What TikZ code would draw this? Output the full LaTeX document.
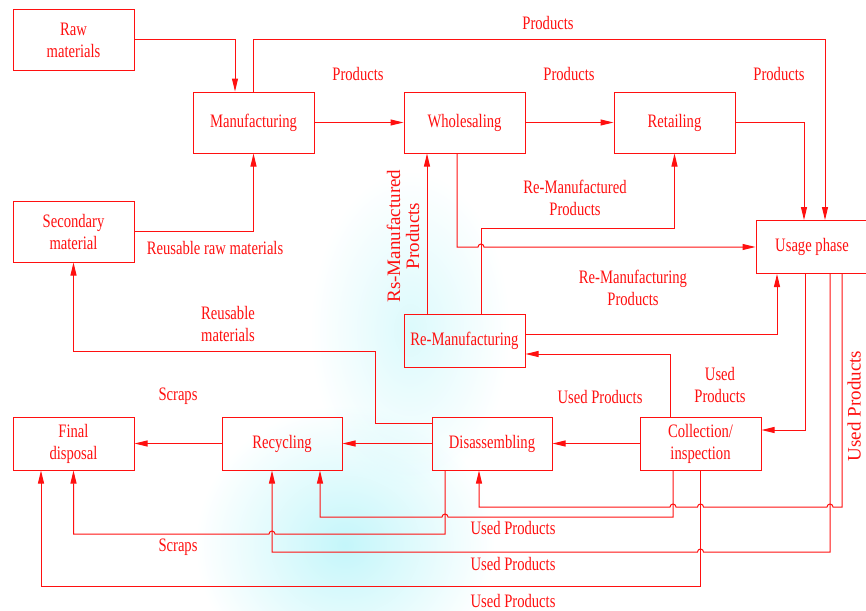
\documentclass[tikz,border=0pt]{standalone}
\usepackage{fontspec}
\setmainfont{Liberation Serif}[FakeStretch=0.77]
\newfontfamily\uprightserif{Liberation Serif}
\usepackage{tikz}
\usetikzlibrary{arrows.meta,positioning}
\definecolor{FlowRed}{HTML}{FF1010}
\definecolor{HazeCyan}{HTML}{C4F6FA}

\begin{document}
\begin{tikzpicture}[
  x=1pt,y=-1pt,
  every node/.style={font=\fontsize{19}{22}\selectfont,text=FlowRed},
  box/.style={draw=FlowRed,line width=1pt,minimum width=121pt,minimum height=53pt,
              inner sep=0pt,align=center},
  tallbox/.style={box,minimum height=61pt},
  flow/.style={-{Triangle[length=13pt,width=6pt]},line width=1pt,color=FlowRed},
  lbl/.style={align=center,inner sep=0pt},
  sidelbl/.style={lbl,rotate=90,font=\uprightserif\fontsize{19}{19}\selectfont},
  haze/.style={inner color=HazeCyan,outer color=white}
]
  \useasboundingbox (0,0) rectangle (866,610);
  \begin{scope}[blend mode=multiply]
    \shade[haze,inner color=HazeCyan!60] (410,330) ellipse[x radius=100pt,y radius=160pt];
    \shade[haze] (345,545) ellipse[x radius=150pt,y radius=140pt];
  \end{scope}

  \node[tallbox] (raw) at (73.5,40) {Raw\\materials};
  \node[tallbox] (man) at (253.5,122.5) {Manufacturing};
  \node[tallbox] (whole) at (464.5,122.5) {Wholesaling};
  \node[tallbox] (retail) at (674.5,122.5) {Retailing};
  \node[box,minimum width=112pt] (usage) at (812,247) {Usage phase};
  \node[tallbox] (second) at (73.5,231.5) {Secondary\\material};
  \node[box] (reman) at (464.5,340.5) {Re-Manufacturing};
  \node[box] (final) at (73.5,443.5) {Final\\disposal};
  \node[box,minimum width=120pt] (recyc) at (282,443.5) {Recycling};
  \node[box,minimum width=120pt] (disas) at (492,443.5) {Disassembling};
  \node[box] (coll) at (700.5,443.5) {Collection/\\inspection};

  % forward chain
  \draw[flow] (raw.east) -| ([xshift=-18.5]man.north);
  \draw[flow] (man.north) -- (253.5,40) -| ([xshift=13]usage.north);
  \draw[flow] (man) -- (whole);
  \draw[flow] (whole) -- (retail);
  \draw[flow] (retail.east) -| ([xshift=-8]usage.north);
  \draw[flow] (second.east) -| (man.south);
  \draw[flow] ([xshift=-7.5]whole.south) |- (478,247)
    arc[start angle=180,end angle=0,radius=3pt] -- (usage.west);

  % re-manufacturing loop
  \draw[flow] ([xshift=16.5]reman.north) -- ++(0,-85) -| (retail.south);
  \draw[flow] ([xshift=-37.5]reman.north) -- ([xshift=-37.5]whole.south);
  \draw[flow] ([yshift=6.5]reman.east) -| ([xshift=-35]usage.south);
  \draw[flow] ([xshift=-30.5]coll.north) |- ([yshift=-13.5]reman.east);
  \draw[flow] ([xshift=-7]usage.south) |- ([yshift=13.5]coll.east);

  % end of life
  \draw[flow] (coll) -- (disas);
  \draw[flow] (disas) -- (recyc);
  \draw[flow] (recyc) -- (final);
  \draw[flow] ([yshift=20.5]disas.west) -| (375,351) -| (second.south);

  \draw[flow] ([xshift=30]usage.south) -- (842,507) -- (833,507)
    arc[start angle=0,end angle=180,radius=3pt] -- (703.5,507)
    arc[start angle=0,end angle=180,radius=3pt] -- (676,507)
    arc[start angle=0,end angle=180,radius=3pt] -- (479,507) -- ([xshift=-13]disas.south);
  \draw[flow] ([xshift=-27.5]coll.south) -- (673,517) -- (448,517)
    arc[start angle=0,end angle=180,radius=3pt] -- (320,517) -- ([xshift=38]recyc.south);
  \draw[flow] ([xshift=-47]disas.south) -- (445,534) -- (275,534)
    arc[start angle=0,end angle=180,radius=3pt] -- (73.5,534) -- (final.south);
  \draw[flow] ([xshift=18]usage.south) -- (830,552) -- (703.5,552)
    arc[start angle=0,end angle=180,radius=3pt] -- (272,552) -- ([xshift=-10]recyc.south);
  \draw[flow] (coll.south) -- (700.5,586) -- (41,586) -- ([xshift=-32.5]final.south);

  % labels
  \node[lbl] (ptop) at (548,23) {Products};
  \node[lbl] (pmw) at (358,74) {Products};
  \node[lbl] (pwr) at (569,74) {Products};
  \node[lbl] (pru) at (779,74) {Products};
  \node[lbl] (rrm) at (215,248) {Reusable raw materials};
  \node[lbl] (rmp) at (575,198) {Re-Manufactured\\Products};
  \node[lbl] (rmg) at (633,288) {Re-Manufacturing\\Products};
  \node[sidelbl] (rsp) at (403,236) {Rs-Manufactured\\Products};
  \node[lbl] (rmat) at (228,324) {Reusable\\materials};
  \node[lbl] (scr1) at (178,396) {Scraps};
  \node[lbl] (scr2) at (178,547) {Scraps};
  \node[lbl] (up1) at (600,397) {Used Products};
  \node[lbl] (up2) at (720,385) {Used\\Products};
  \node[sidelbl] (up3) at (854,406) {Used Products};
  \node[lbl] (up4) at (513,528) {Used Products};
  \node[lbl] (up5) at (513,564) {Used Products};
  \node[lbl] (up6) at (513,601) {Used Products};
\end{tikzpicture}
\end{document}
